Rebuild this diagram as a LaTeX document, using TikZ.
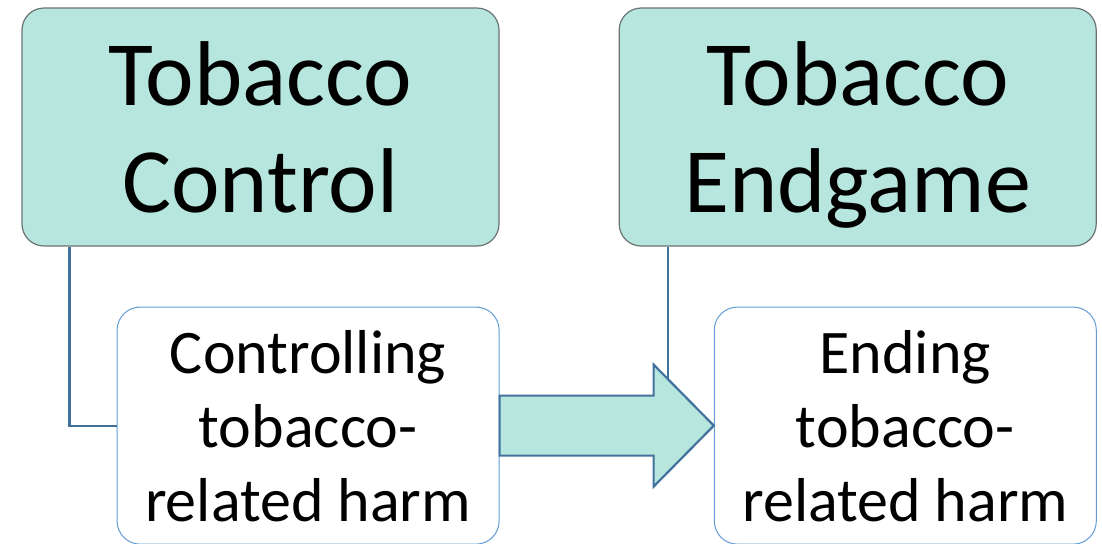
\documentclass[tikz,border=0pt]{standalone}
\usepackage{fontspec}
\setmainfont{Carlito}
\definecolor{softteal}{RGB}{183,230,222}
\definecolor{edgegray}{RGB}{105,115,115}
\definecolor{boxblue}{RGB}{98,157,214}
\definecolor{linkblue}{RGB}{65,113,156}
\usetikzlibrary{positioning,calc}

\begin{document}
\begin{tikzpicture}[
    headbox/.style={draw=edgegray, line width=0.6pt, fill=softteal, rounded corners=11pt,
      minimum width=238.5pt, minimum height=119pt, align=center, text depth=0pt,
      font=\fontsize{46}{53.5}\selectfont},
    itembox/.style={draw=boxblue, line width=0.5pt, fill=white, rounded corners=11.5pt,
      minimum width=191pt, minimum height=118.5pt, align=center, text depth=0pt,
      font=\fontsize{31}{37}\selectfont, execute at begin node={\rule{0pt}{32pt}}},
    link/.style={draw=linkblue, line width=1.1pt},
    bigarrow/.style={draw=linkblue, line width=1.1pt, fill=softteal, line join=miter}
  ]
  \useasboundingbox (0,0) rectangle (551pt,-271.5pt);

  % top row
  \node[headbox] (control) at (130.25pt,-63.5pt) {Tobacco\\Control};
  \node[headbox, right=59.5pt of control] (endgame) {Tobacco\\Endgame};

  % bottom row
  \node[itembox, below=30pt of control.south east, anchor=north east] (controlling)
    {Controlling\\tobacco-\\related harm};
  \node[itembox, below=30pt of endgame.south east, anchor=north east] (ending)
    {Ending\\tobacco-\\related harm};

  % links
  \draw[link] ($(control.south west)+(24pt,0)$) |- (controlling.west);
  \draw[link] ($(endgame.south west)+(24.5pt,0)$) |- (ending.west);

  % shift arrow
  \draw[bigarrow] ($(controlling.east)+(0,15pt)$) -- ($(controlling.east)+(77pt,15pt)$)
    -- ($(controlling.east)+(77pt,30.5pt)$) -- (ending.west)
    -- ($(controlling.east)+(77pt,-30.5pt)$) -- ($(controlling.east)+(77pt,-15pt)$)
    -- ($(controlling.east)+(0,-15pt)$) -- cycle;
\end{tikzpicture}
\end{document}
